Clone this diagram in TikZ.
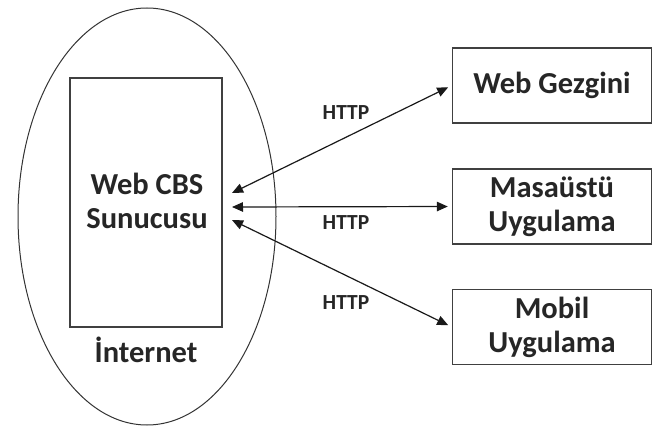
\documentclass[tikz,border=0pt]{standalone}
\usepackage{fontspec}
\setmainfont{Carlito}
\usetikzlibrary{arrows.meta,shapes.geometric}
\begin{document}
\begin{tikzpicture}[x=1pt,y=-1pt,
  txt/.style={font=\bfseries\fontsize{30.5}{34}\selectfont, align=center, text=black!85},
  lbl/.style={font=\bfseries\fontsize{21.5}{24}\selectfont, text=black!85},
  clientbox/.style={draw=black!75, line width=1.4pt, minimum width=199pt, minimum height=75pt, inner sep=0pt, txt},
  link/.style={{Triangle[length=11pt,width=9.5pt]}-{Triangle[length=11pt,width=9.5pt]}, line width=1.2pt, black!90}]
\useasboundingbox (0,0) rectangle (653,428);
\node[draw=black!80, line width=1pt, ellipse, minimum width=258pt, minimum height=417pt, inner sep=0pt] (net) at (147,216.5) {};
\node[draw=black!75, line width=1.4pt, minimum width=152pt, minimum height=249pt, inner sep=0pt] (srv) at (146,202.5) {};
\node[txt] (srvtxt) at (147,201) {Web CBS\\Sunucusu};
\node[txt] (inet) at (146,350) {İnternet};
\node[clientbox] (g) at (552,85.5) {Web Gezgini};
\node[clientbox] (m) at (552,206.5) {Masaüstü\\Uygulama};
\node[clientbox] (mo) at (552,327) {Mobil\\Uygulama};
\coordinate (a1) at (232,193);
\coordinate (a2) at (232,207);
\coordinate (a3) at (232,220);
\draw[link, shorten >=4pt] (a1) -- (g.west);
\draw[link, shorten >=4pt] (a2) -- (m.west);
\draw[link, shorten >=4pt] (a3) -- (mo.west);
\node[lbl] (h1) at (346,113) {HTTP};
\node[lbl] (h2) at (346,223) {HTTP};
\node[lbl] (h3) at (346,303) {HTTP};
\end{tikzpicture}
\end{document}
